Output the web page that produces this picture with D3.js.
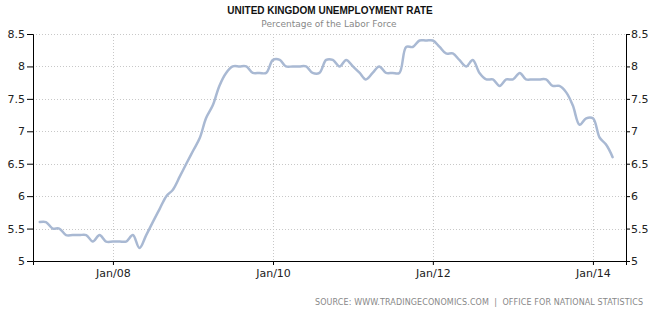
<!DOCTYPE html>
<html>
<head>
<meta charset="utf-8">
<script src="https://cdn.jsdelivr.net/npm/d3@7"></script>
<style>
  body { margin: 0; background: #fff; }
  svg { display: block; }
  .grid line { stroke: #c8c8c8; stroke-dasharray: 1,2; }
  .axis text { font-family: "DejaVu Sans", sans-serif; font-size: 11px; fill: #222; }
</style>
</head>
<body>
<svg id="chart"></svg>
<script>
// monthly values, Feb 2007 .. May 2014
var startMonth = "2007-02";
var rates = [
  5.6, 5.6, 5.5, 5.5, 5.4, 5.4, 5.4, 5.4, 5.3, 5.4, 5.3,          // 2007 Feb-Dec
  5.3, 5.3, 5.3, 5.4, 5.2, 5.4, 5.6, 5.8, 6.0, 6.1, 6.3, 6.5,     // 2008
  6.7, 6.9, 7.2, 7.4, 7.7, 7.9, 8.0, 8.0, 8.0, 7.9, 7.9, 7.9,     // 2009
  8.1, 8.1, 8.0, 8.0, 8.0, 8.0, 7.9, 7.9, 8.1, 8.1, 8.0, 8.1,     // 2010
  8.0, 7.9, 7.8, 7.9, 8.0, 7.9, 7.9, 7.9, 8.3, 8.3, 8.4, 8.4,     // 2011
  8.4, 8.3, 8.2, 8.2, 8.1, 8.0, 8.1, 7.9, 7.8, 7.8, 7.7, 7.8,     // 2012
  7.8, 7.9, 7.8, 7.8, 7.8, 7.8, 7.7, 7.7, 7.6, 7.4, 7.1, 7.2,     // 2013
  7.2, 6.9, 6.8, 6.6                                              // 2014 Jan-May
];
var yTicks = [5, 5.5, 6, 6.5, 7, 7.5, 8, 8.5];
var xTickDates = ["2008-01", "2010-01", "2012-01", "2014-01"];
var title = "UNITED KINGDOM UNEMPLOYMENT RATE";
var subtitle = "Percentage of the Labor Force";
var source = "SOURCE: WWW.TRADINGECONOMICS.COM  |  OFFICE FOR NATIONAL STATISTICS";

var width = 656, height = 314;
var margin = {top: 34, right: 30, bottom: 53, left: 33};
var plotW = width - margin.left - margin.right,
    plotH = height - margin.top - margin.bottom;

var parseMonth = d3.timeParse("%Y-%m");
var fmt = d3.timeFormat("%b/%y");

var data = rates.map(function(v, i) {
  return {date: d3.timeMonth.offset(parseMonth(startMonth), i), val: v};
});

var svg = d3.select("#chart")
  .attr("width", width)
  .attr("height", height);

var x = d3.scaleTime()
  .domain([parseMonth("2007-01"), parseMonth("2014-06")])
  .range([0, plotW]);
var y = d3.scaleLinear().domain([5, 8.5]).range([plotH, 0]);

var g = svg.append("g")
  .attr("transform", "translate(" + margin.left + "," + margin.top + ")");

// dotted grid
var grid = g.append("g").attr("class", "grid");
grid.selectAll(".hg")
    .data(yTicks.slice(1))
  .enter().append("line")
    .attr("x1", 0).attr("x2", plotW)
    .attr("y1", function(d) { return Math.round(y(d)) + 0.5; })
    .attr("y2", function(d) { return Math.round(y(d)) + 0.5; });
grid.selectAll(".vg")
    .data(xTickDates.map(parseMonth))
  .enter().append("line")
    .attr("y1", 0).attr("y2", plotH)
    .attr("x1", function(d) { return Math.round(x(d)) + 0.5; })
    .attr("x2", function(d) { return Math.round(x(d)) + 0.5; });

// axes
g.append("g")
  .attr("class", "axis")
  .call(d3.axisLeft(y).tickValues(yTicks).tickSize(6).tickPadding(2)
    .tickFormat(function(d) { return d; }));

g.append("g")
  .attr("class", "axis")
  .attr("transform", "translate(" + plotW + ",0)")
  .call(d3.axisRight(y).tickValues(yTicks).tickSize(4).tickPadding(1)
    .tickFormat(function(d) { return d; }));

g.append("g")
  .attr("class", "axis")
  .attr("transform", "translate(0," + plotH + ")")
  .call(d3.axisBottom(x).tickValues(xTickDates.map(parseMonth)).tickSize(4).tickPadding(4)
    .tickFormat(fmt));

g.selectAll(".axis .domain").attr("stroke", "#000");
g.selectAll(".axis line").attr("stroke", "#000");

// the line, smoothed
var line = d3.line()
  .x(function(d) { return x(d.date); })
  .y(function(d) { return y(d.val); })
  .curve(d3.curveCatmullRom.alpha(0.5));

g.append("path")
  .datum(data)
  .attr("fill", "none")
  .attr("stroke", "#a9b9d3")
  .attr("stroke-width", 2.5)
  .attr("stroke-linejoin", "round")
  .attr("stroke-linecap", "round")
  .attr("d", line);

// titles
svg.append("text")
  .attr("x", 330).attr("y", 14)
  .attr("text-anchor", "middle")
  .style("font-family", "Liberation Sans, Arial, sans-serif")
  .style("font-size", "10px")
  .style("font-weight", "bold")
  .style("fill", "#111")
  .text(title);

svg.append("text")
  .attr("x", 329).attr("y", 27)
  .attr("text-anchor", "middle")
  .style("font-family", "DejaVu Sans, sans-serif")
  .style("font-size", "9px")
  .style("fill", "#888")
  .text(subtitle);

svg.append("text")
  .attr("x", 315).attr("y", 305)
  .attr("textLength", 328)
  .attr("lengthAdjust", "spacing")
  .style("font-family", "DejaVu Sans, sans-serif")
  .style("font-size", "8px")
  .style("fill", "#888")
  .style("white-space", "pre")
  .text(source);
</script>
</body>
</html>
